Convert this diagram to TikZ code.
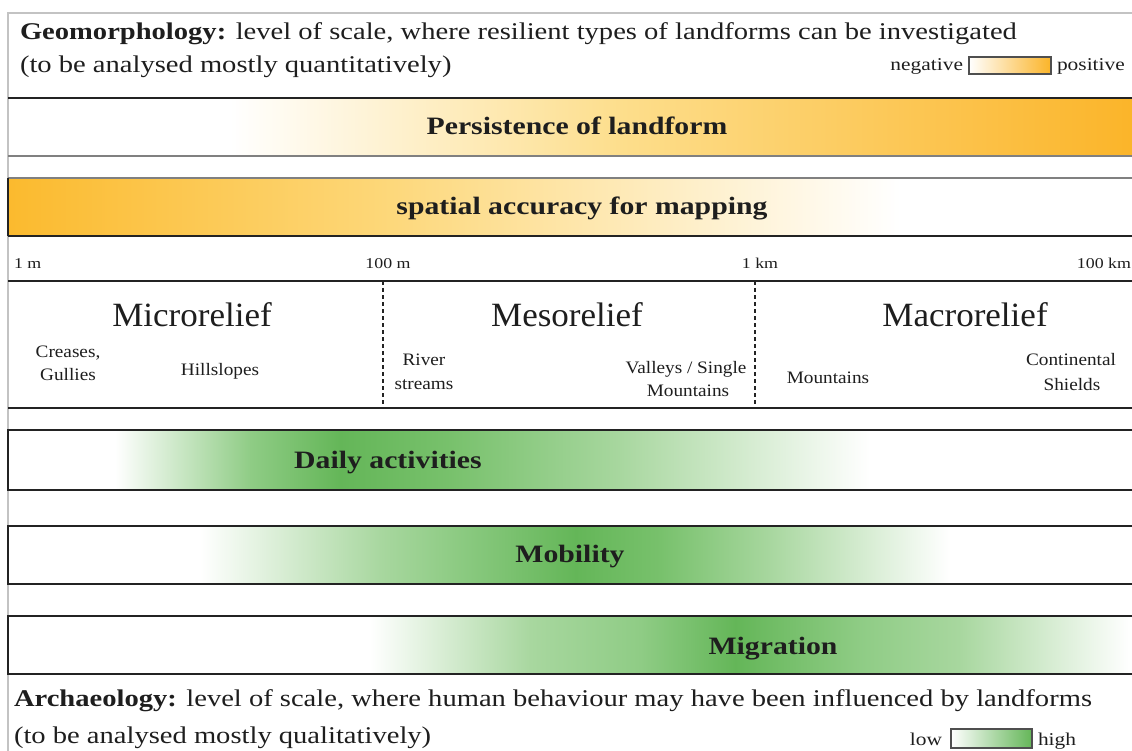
\documentclass[tikz,border=0pt]{standalone}
\usepackage{fontspec}
\setmainfont{Liberation Serif}[FakeStretch=1.19]
\newfontfamily\subfont{Liberation Serif}[FakeStretch=1.1]
\newfontfamily\relfont{Liberation Serif}[FakeStretch=1.03]
\definecolor{orng}{RGB}{251,180,40}
\definecolor{orngL}{RGB}{251,186,46}
\definecolor{orA}{RGB}{253,222,140}
\definecolor{orB}{RGB}{253,215,120}
\definecolor{grn}{RGB}{100,182,88}
\definecolor{grnA}{RGB}{143,204,133}
\definecolor{grnB}{RGB}{120,193,108}
\definecolor{grnC}{RGB}{168,215,159}
\definecolor{framec}{RGB}{195,195,195}
\definecolor{edge}{RGB}{35,35,35}
\definecolor{txt}{RGB}{30,30,30}
\begin{document}
\begin{tikzpicture}[x=1pt,y=-1pt,
  every node/.style={inner sep=0pt,outer sep=0pt,text=txt},
  headtxt/.style={font=\fontsize{24}{28}\selectfont,anchor=base west},
  legtxt/.style={font=\fontsize{18}{20}\selectfont,anchor=base west},
  bartxt/.style={font=\fontsize{25}{28}\selectfont\bfseries,anchor=base},
  scaletxt/.style={font=\fontsize{15}{18}\selectfont,anchor=base},
  relieftxt/.style={font=\relfont\fontsize{34}{38}\selectfont,anchor=base},
  subtxt/.style={font=\subfont\fontsize{17.5}{23.5}\selectfont,anchor=base},
  barline/.style={draw=edge,line width=1.8pt},
  thinline/.style={draw=gray,line width=1.6pt},
  legbox/.style={draw=edge!80,line width=1.2pt}
]
\useasboundingbox (0,0) rectangle (1132,751);
\clip (0,0) rectangle (1132,751);
\fill[white] (0,0) rectangle (1132,751);

% frame
\draw[framec,line width=1.4pt] (8,751) -- (8,13) -- (1140,13);

% header
\node[headtxt] (geo1) at (20,40) {\textbf{Geomorphology:} level of scale, where resilient types of landforms can be investigated};
\node[headtxt] (geo2) at (20,73) {(to be analysed mostly quantitatively)};
\node[legtxt,anchor=base east] (neg) at (963,71) {negative};
\shade[left color=white,right color=orng] (969,57) rectangle (1051,74);
\draw[legbox] (969,57) rectangle (1051,74);
\node[legtxt] (pos) at (1057,71) {positive};

% persistence bar
\shade[left color=white,right color=orA] (230,98) rectangle (621,156);
\shade[left color=orA,right color=orng] (620,98) rectangle (1140,156);
\draw[barline] (8,98) -- (1140,98);
\draw[thinline] (8,156) -- (1140,156);
\node[bartxt] (pers) at (577,135) {Persistence of landform};

% spatial accuracy bar
\shade[left color=orngL,right color=orB] (8,178) rectangle (381,236);
\shade[left color=orB,right color=white] (380,178) rectangle (900,236);
\draw[thinline] (8,178) -- (1140,178);
\draw[barline] (8,236) -- (1140,236);
\draw[barline] (8,178) -- (8,236);
\node[bartxt] (spat) at (582,215) {spatial accuracy for mapping};

% scale
\node[scaletxt,anchor=base west] (s1) at (14,269) {1 m};
\node[scaletxt] (s2) at (388,269) {100 m};
\node[scaletxt] (s3) at (760,269) {1 km};
\node[scaletxt,anchor=base east] (s4) at (1131,269) {100 km};

% relief box
\draw[barline] (8,281) -- (1140,281);
\draw[barline] (8,408) -- (1140,408);
\draw[edge,line width=1.3pt,dash pattern=on 4pt off 3pt] (383,281) -- (383,408);
\draw[edge,line width=1.3pt,dash pattern=on 4pt off 3pt] (755,281) -- (755,408);
\node[relieftxt] (micro) at (192,326) {Microrelief};
\node[relieftxt] (meso) at (567,326) {Mesorelief};
\node[relieftxt] (macro) at (965,326) {Macrorelief};
\node[subtxt] (creasesA) at (68,357) {Creases,};
\node[subtxt] (creasesB) at (68,380) {Gullies};
\node[subtxt] (hill) at (220,375) {Hillslopes};
\node[subtxt] (riverA) at (424,365) {River};
\node[subtxt] (riverB) at (424,389) {streams};
\node[subtxt] (valleysA) at (686,373) {Valleys / Single};
\node[subtxt] (valleysB) at (688,396) {Mountains};
\node[subtxt] (mount) at (828,383) {Mountains};
\node[subtxt] (contA) at (1071,365) {Continental};
\node[subtxt] (contB) at (1072,390) {Shields};

% daily activities
\shade[left color=white,right color=grnA] (115,430) rectangle (251,490);
\shade[left color=grnA,right color=grn] (250,430) rectangle (341,490);
\shade[left color=grn,right color=grnB] (340,430) rectangle (451,490);
\shade[left color=grnB,right color=grnC] (450,430) rectangle (621,490);
\shade[left color=grnC,right color=white] (620,430) rectangle (870,490);
\draw[barline] (1150,430) -- (8,430) -- (8,490) -- (1150,490);
\node[bartxt] (daily) at (388,468) {Daily activities};

% mobility
\shade[left color=white,right color=grnC] (200,526) rectangle (381,584);
\shade[left color=grnC,right color=grnA] (380,526) rectangle (451,584);
\shade[left color=grnA,right color=grn] (450,526) rectangle (576,584);
\shade[left color=grn,right color=grnB] (575,526) rectangle (661,584);
\shade[left color=grnB,right color=grnC] (660,526) rectangle (771,584);
\shade[left color=grnC,right color=white] (770,526) rectangle (950,584);
\draw[barline] (1150,526) -- (8,526) -- (8,584) -- (1150,584);
\node[bartxt] (mob) at (570,562) {Mobility};

% migration
\shade[left color=white,right color=grnC] (370,616) rectangle (531,674);
\shade[left color=grnC,right color=grnA] (530,616) rectangle (641,674);
\shade[left color=grnA,right color=grn] (640,616) rectangle (736,674);
\shade[left color=grn,right color=grnA] (735,616) rectangle (861,674);
\shade[left color=grnA,right color=grnC] (860,616) rectangle (961,674);
\shade[left color=grnC,right color=white] (960,616) rectangle (1130,674);
\draw[barline] (1150,616) -- (8,616) -- (8,674) -- (1150,674);
\node[bartxt] (mig) at (773,654) {Migration};

% footer
\node[headtxt] (arch1) at (14,706) {\textbf{Archaeology:} level of scale, where human behaviour may have been influenced by landforms};
\node[headtxt] (arch2) at (14,743) {(to be analysed mostly qualitatively)};
\node[legtxt,anchor=base east] (low) at (942,745) {low};
\shade[left color=white,right color=grn] (951,729) rectangle (1032,748);
\draw[legbox] (951,729) rectangle (1032,748);
\node[legtxt] (high) at (1038,745) {high};
\end{tikzpicture}
\end{document}
